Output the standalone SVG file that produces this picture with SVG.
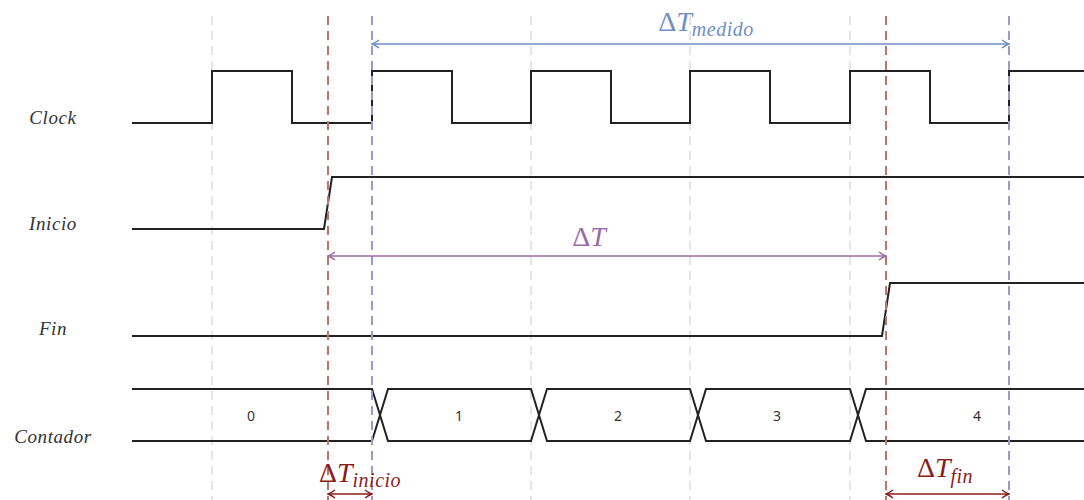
<svg xmlns="http://www.w3.org/2000/svg" width="1084" height="500" viewBox="0 0 1084 500">
<defs>
<style>
.lbl{font-family:'Liberation Serif','DejaVu Serif',serif;font-style:italic;font-size:19px;fill:#333;text-anchor:middle;letter-spacing:0.6px}
.wave{fill:none;stroke:#222;stroke-width:2;stroke-linejoin:miter}
.grid{stroke:#e5e5e5;stroke-width:2;stroke-dasharray:9 6}
.red{stroke:#b8776a;stroke-width:2;stroke-dasharray:9 6}
.blue{stroke:#9a9ac8;stroke-width:2;stroke-dasharray:9 6}
.val{font-family:'Noto Sans','DejaVu Sans',sans-serif;font-size:14px;fill:#333;text-anchor:middle}
.math{font-family:'Liberation Serif','DejaVu Serif',serif;font-size:28px;text-anchor:middle}
.sub{font-style:italic;font-size:20px;letter-spacing:0.5px}
.it{font-style:italic}
</style>
<marker id="hb" viewBox="0 0 10 10" refX="9" refY="5" markerWidth="10" markerHeight="10" markerUnits="userSpaceOnUse" orient="auto-start-reverse"><path d="M2,1 Q6,4 9,5 Q6,6 2,9" fill="none" stroke="#6f8fc6" stroke-width="1.5"/></marker>
<marker id="hp" viewBox="0 0 10 10" refX="9" refY="5" markerWidth="10" markerHeight="10" markerUnits="userSpaceOnUse" orient="auto-start-reverse"><path d="M2,1 Q6,4 9,5 Q6,6 2,9" fill="none" stroke="#9a6aaa" stroke-width="1.5"/></marker>
<marker id="hr" viewBox="0 0 10 10" refX="9" refY="5" markerWidth="10" markerHeight="10" markerUnits="userSpaceOnUse" orient="auto-start-reverse"><path d="M2,1 Q6,4 9,5 Q6,6 2,9" fill="none" stroke="#8b1c1c" stroke-width="1.5"/></marker>
</defs>
<rect width="1084" height="500" fill="#fff"/>
<g id="gridlines">
<line class="grid" x1="212" y1="16" x2="212" y2="500"/>
<line class="grid" x1="531" y1="16" x2="531" y2="500"/>
<line class="grid" x1="690" y1="16" x2="690" y2="500"/>
<line class="grid" x1="850" y1="16" x2="850" y2="500"/>
</g>
<g id="labels">
<text class="lbl" x="53" y="124">Clock</text>
<text class="lbl" x="53" y="230">Inicio</text>
<text class="lbl" x="53" y="335">Fin</text>
<text class="lbl" x="53" y="443">Contador</text>
</g>
<g id="clock"><path class="wave" d="M132,123H212V71H292V123H372V71H452V123H531V71H611V123H690V71H770V123H850V71H930V123H1009V71H1084"/></g>
<g id="inicio"><path class="wave" d="M132,229H324L332,177H1084"/></g>
<g id="fin"><path class="wave" d="M132,336H882L890,283H1084"/></g>
<g id="contador">
<path class="wave" d="M132,389H372L388,441H531L547,389H690L706,441H850L866,389H1084"/>
<path class="wave" d="M132,441H372L388,389H531L547,441H690L706,389H850L866,441H1084"/>
<text class="val" x="251" y="421">0</text>
<text class="val" x="459" y="421">1</text>
<text class="val" x="618" y="421">2</text>
<text class="val" x="777" y="421">3</text>
<text class="val" x="977" y="421">4</text>
</g>
<g id="markers">
<line class="red" x1="328" y1="16" x2="328" y2="500"/>
<line class="red" x1="886" y1="16" x2="886" y2="500"/>
<line class="blue" x1="372" y1="16" x2="372" y2="500"/>
<line class="blue" x1="1009" y1="16" x2="1009" y2="500"/>
</g>
<g id="connectors">
<line x1="372" y1="44" x2="1009" y2="44" stroke="#6f8fc6" stroke-width="1.5" marker-start="url(#hb)" marker-end="url(#hb)"/>
<line x1="328" y1="256" x2="886" y2="256" stroke="#9a6aaa" stroke-width="1.5" marker-start="url(#hp)" marker-end="url(#hp)"/>
<line x1="328" y1="494" x2="372" y2="494" stroke="#8b1c1c" stroke-width="1.5" marker-start="url(#hr)" marker-end="url(#hr)"/>
<line x1="886" y1="494" x2="1009" y2="494" stroke="#8b1c1c" stroke-width="1.5" marker-start="url(#hr)" marker-end="url(#hr)"/>
</g>
<g id="dt-medido"><text class="math" x="706" y="31" fill="#6f8fc6">Δ<tspan class="it">T</tspan><tspan class="sub" dy="5">medido</tspan></text></g>
<g id="dt"><text class="math" x="589" y="246" fill="#9a6aaa">Δ<tspan class="it">T</tspan></text></g>
<g id="dt-inicio"><text class="math" x="360" y="482" fill="#8b1c1c">Δ<tspan class="it">T</tspan><tspan class="sub" dy="5">inicio</tspan></text></g>
<g id="dt-fin"><text class="math" x="945" y="477" fill="#8b1c1c">Δ<tspan class="it">T</tspan><tspan class="sub" dy="6">fin</tspan></text></g>
</svg>
